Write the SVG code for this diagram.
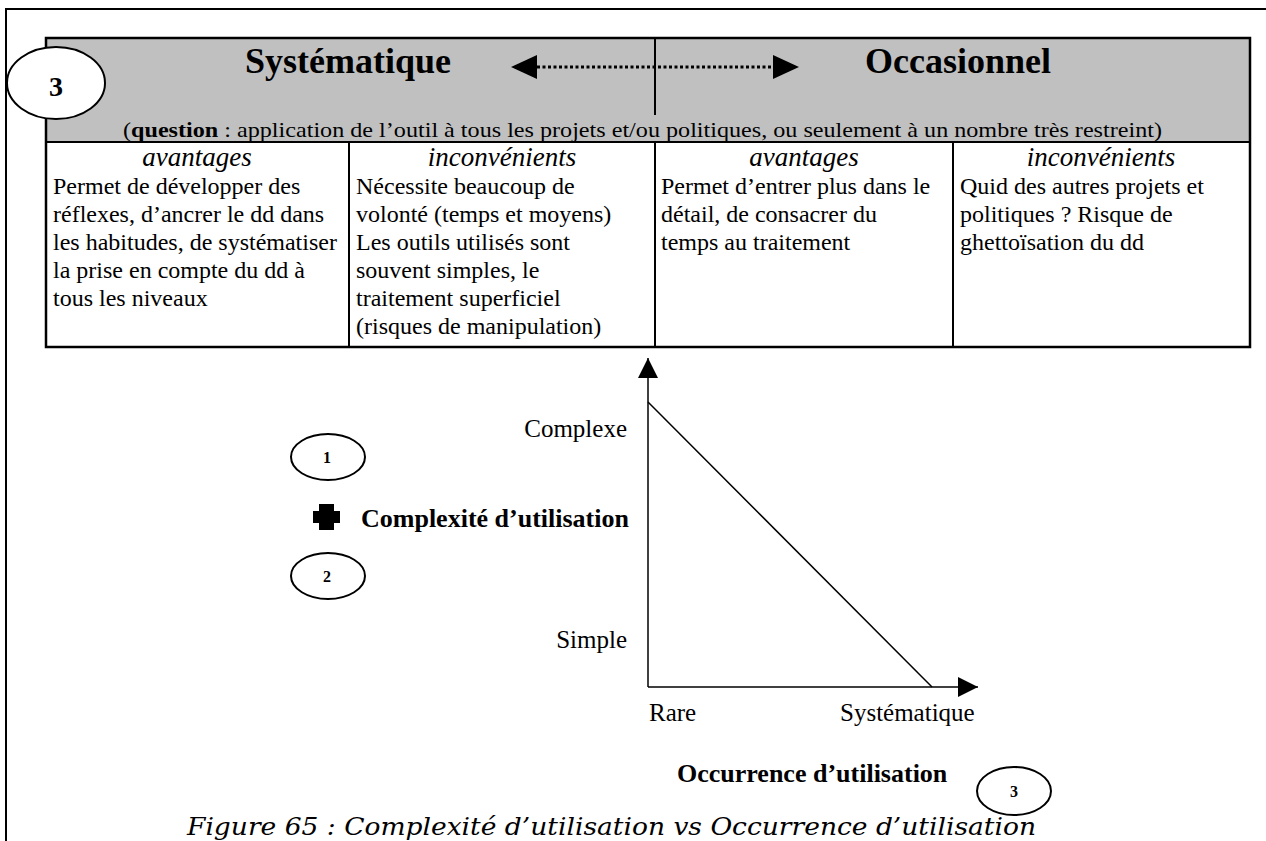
<svg xmlns="http://www.w3.org/2000/svg" width="1266" height="841" viewBox="0 0 1266 841">
<defs>
<style>
.serif{font-family:"Liberation Serif","Times New Roman",serif;fill:#000}
.hd{font-size:36px;font-weight:bold}
.q{font-size:22px}
.ch{font-size:27px;font-style:italic;text-anchor:middle}
.bd{font-size:24px}
.ax{font-size:25px}
.bl{font-size:26px;font-weight:bold}
.num{font-size:16px;font-weight:bold;text-anchor:middle}
.ell{fill:#fff;stroke:#000;stroke-width:2}
.frame{fill:none;stroke:#000;stroke-width:2}
.thin{stroke:#000;stroke-width:1.5;fill:none}
</style>
<marker id="ah" viewBox="0 0 20 20" refX="20" refY="10" markerWidth="20" markerHeight="20" markerUnits="userSpaceOnUse" orient="auto">
<path d="M0,0 L20,10 L0,20 Z" fill="#000"/>
</marker>
</defs>
<rect width="1266" height="841" fill="#fff"/>
<!-- outer frame -->
<path d="M6,841 V9 H1266" class="frame"/>

<g id="table">
<rect x="46" y="38" width="1204" height="104" fill="#c0c0c0"/>
<rect x="46" y="38" width="1204" height="309" fill="none" stroke="#000" stroke-width="2.5"/>
<line x1="46" y1="142" x2="1250" y2="142" stroke="#000" stroke-width="2"/>
<line x1="655" y1="38" x2="655" y2="115" stroke="#000" stroke-width="2"/>
<line x1="349" y1="142" x2="349" y2="347" stroke="#000" stroke-width="2"/>
<line x1="655" y1="142" x2="655" y2="347" stroke="#000" stroke-width="2"/>
<line x1="953" y1="142" x2="953" y2="347" stroke="#000" stroke-width="2"/>
<text class="serif hd" x="245" y="73">Systématique</text>
<text class="serif hd" x="865" y="73">Occasionnel</text>
<text class="serif q" x="123" y="137" textLength="1039" lengthAdjust="spacingAndGlyphs">(<tspan font-weight="bold">question</tspan> : application de l’outil à tous les projets et/ou politiques, ou seulement à un nombre très restreint)</text>
<text class="serif ch" x="197" y="166">avantages</text>
<text class="serif ch" x="502" y="166">inconvénients</text>
<text class="serif ch" x="804" y="166">avantages</text>
<text class="serif ch" x="1101" y="166">inconvénients</text>
<text class="serif bd" x="53" y="194">Permet de développer des</text>
<text class="serif bd" x="53" y="222">réflexes, d’ancrer le dd dans</text>
<text class="serif bd" x="53" y="250">les habitudes, de systématiser</text>
<text class="serif bd" x="53" y="278">la prise en compte du dd à</text>
<text class="serif bd" x="53" y="306">tous les niveaux</text>
<text class="serif bd" x="356" y="194">Nécessite beaucoup de</text>
<text class="serif bd" x="356" y="222">volonté (temps et moyens)</text>
<text class="serif bd" x="356" y="250">Les outils utilisés sont</text>
<text class="serif bd" x="356" y="278">souvent simples, le</text>
<text class="serif bd" x="356" y="306">traitement superficiel</text>
<text class="serif bd" x="356" y="334">(risques de manipulation)</text>
<text class="serif bd" x="661" y="194">Permet d’entrer plus dans le</text>
<text class="serif bd" x="661" y="222">détail, de consacrer du</text>
<text class="serif bd" x="661" y="250">temps au traitement</text>
<text class="serif bd" x="960" y="194">Quid des autres projets et</text>
<text class="serif bd" x="960" y="222">politiques ? Risque de</text>
<text class="serif bd" x="960" y="250">ghettoïsation du dd</text>
</g>

<g id="badge-3-top">
<ellipse cx="56" cy="83" rx="49" ry="36" class="ell"/>
<text class="serif" x="56" y="96" font-size="28" font-weight="bold" text-anchor="middle">3</text>
</g>

<g id="badge-1">
<ellipse cx="328" cy="457" rx="37" ry="23" class="ell"/>
<text class="serif num" x="327" y="463">1</text>
</g>
<g id="badge-2">
<ellipse cx="328" cy="576" rx="37" ry="23" class="ell"/>
<text class="serif num" x="327" y="582">2</text>
</g>
<g id="badge-3-bottom">
<ellipse cx="1014" cy="791" rx="37" ry="24" class="ell"/>
<text class="serif num" x="1014" y="797">3</text>
</g>

<g id="complexite">
<path d="M319,504 H334 V511 H340 V523 H334 V530 H319 V523 H313 V511 H319 Z" fill="#000"/>
<text class="serif bl" x="361" y="527">Complexité d’utilisation</text>
</g>

<g id="connectors">
<line x1="537" y1="67" x2="773" y2="67" stroke="#000" stroke-width="3" stroke-dasharray="3,2.5"/>
<path d="M537,55 L511,67 L537,79 Z" fill="#000"/>
<path d="M773,55 L799,67 L773,79 Z" fill="#000"/>
<line x1="648" y1="687" x2="648" y2="358" class="thin" marker-end="url(#ah)"/>
<line x1="648" y1="687" x2="978" y2="687" class="thin" marker-end="url(#ah)"/>
<line x1="648" y1="402" x2="932" y2="687" class="thin"/>
</g>

<g id="axis-labels">
<text class="serif ax" x="627" y="437" text-anchor="end">Complexe</text>
<text class="serif ax" x="627" y="648" text-anchor="end">Simple</text>
<text class="serif ax" x="649" y="721">Rare</text>
<text class="serif ax" x="840" y="721">Systématique</text>
<text class="serif bl" x="677" y="782">Occurrence d’utilisation</text>
</g>

<text x="187" y="835" font-family="'DejaVu Serif',serif" font-style="italic" font-size="25" textLength="849" lengthAdjust="spacingAndGlyphs">Figure 65 : Complexité d’utilisation vs Occurrence d’utilisation</text>
</svg>
